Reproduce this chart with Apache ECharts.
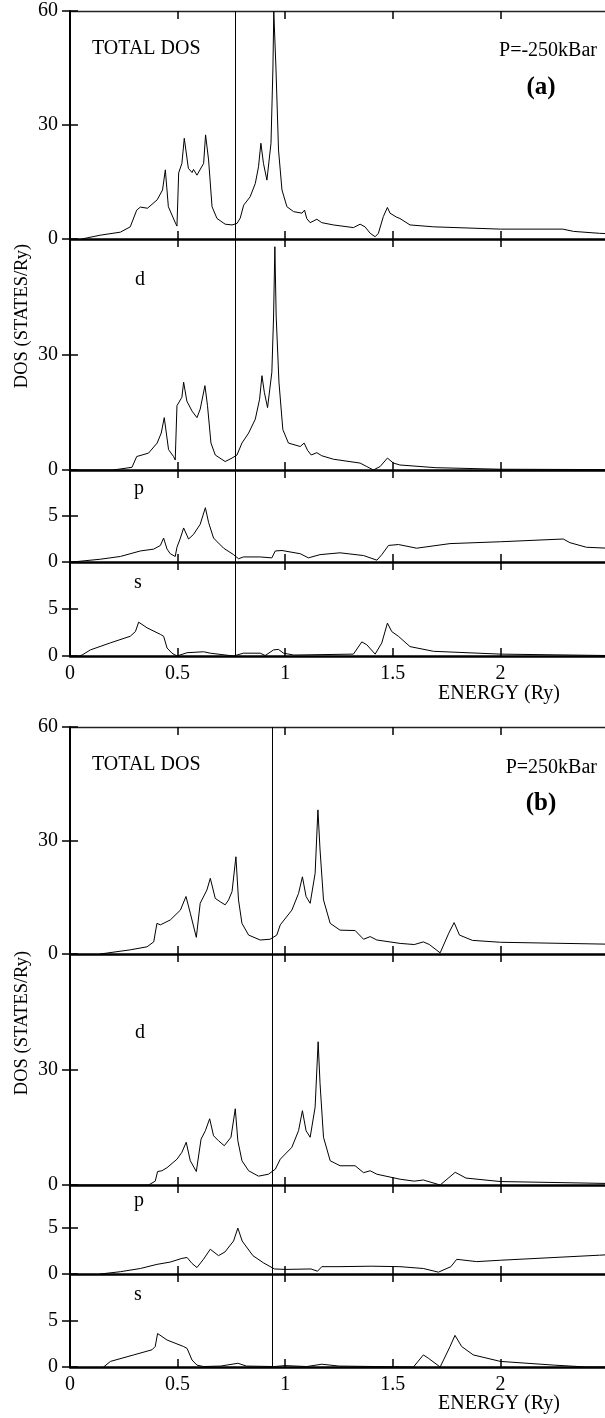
<!DOCTYPE html>
<html><head><meta charset="utf-8">
<script src="https://cdn.jsdelivr.net/npm/echarts@6/dist/echarts.min.js"></script>
<style>html,body{margin:0;padding:0;background:#fff}#c{width:605px;height:1418px}</style>
</head><body><div id="c"></div>
<script>
// ---- data (energy in Ry, DOS in states/Ry) ----
const energyTickLabels = [0, 0.5, 1, 1.5, 2];
const fermiA = 0.768;
const fermiB = 0.943;

const totalA = [[0.055,0],[0.14,1.0],[0.234,1.8],[0.28,3.2],[0.31,7.6],[0.327,8.4],[0.36,8.1],[0.405,10.3],[0.43,12.9],[0.443,18.2],[0.457,8.5],[0.49,4.2],[0.497,3.4],[0.505,17.4],[0.52,19.9],[0.531,26.5],[0.55,18.6],[0.567,17.5],[0.574,18.3],[0.59,16.8],[0.621,19.9],[0.63,27.4],[0.644,20.8],[0.66,8.5],[0.683,5.4],[0.721,3.9],[0.753,3.7],[0.776,4.1],[0.791,5.5],[0.807,8.9],[0.837,11.1],[0.861,14.6],[0.876,19],[0.887,25.2],[0.899,19.9],[0.915,15.5],[0.934,25.2],[0.943,45],[0.947,59.8],[0.957,45],[0.969,23.4],[0.985,12.9],[1.008,8.5],[1.039,7.2],[1.078,6.8],[1.09,7.6],[1.1,5.4],[1.116,4.3],[1.147,5.2],[1.17,4.3],[1.224,3.7],[1.317,3.0],[1.348,3.9],[1.371,3.2],[1.395,1.5],[1.418,0.6],[1.433,1.5],[1.456,5.9],[1.475,8.3],[1.487,6.8],[1.519,5.7],[1.533,5.4],[1.58,3.7],[1.69,3.2],[2.0,2.6],[2.29,2.6],[2.34,2.0],[2.46,1.5],[2.5,1.4]];
const dA = [[0,0],[0.2,0],[0.288,0.7],[0.31,3.5],[0.335,3.9],[0.365,4.4],[0.405,7],[0.424,9.6],[0.438,13.6],[0.458,5.3],[0.481,3.5],[0.489,2.6],[0.497,16.7],[0.52,18.9],[0.528,22.8],[0.543,17.9],[0.567,15.3],[0.59,13.6],[0.605,15.8],[0.627,21.9],[0.639,16.7],[0.655,7],[0.675,3.9],[0.721,2.2],[0.753,3.1],[0.776,3.9],[0.799,7],[0.83,9.6],[0.861,13.2],[0.881,18.4],[0.892,24.5],[0.903,20.2],[0.918,16.2],[0.938,25.4],[0.946,40],[0.952,58],[0.958,40],[0.971,22.8],[0.989,10.5],[1.015,7],[1.07,6.1],[1.088,7],[1.104,5.1],[1.121,3.9],[1.147,4.5],[1.17,3.7],[1.224,2.8],[1.348,1.8],[1.379,0.9],[1.41,0],[1.441,0.9],[1.475,3.1],[1.503,1.8],[1.533,1.3],[1.7,0.6],[2.0,0.2],[2.5,0.1]];
const pA = [[0.01,0],[0.14,0.3],[0.234,0.6],[0.327,1.2],[0.389,1.4],[0.42,1.8],[0.435,2.6],[0.451,1.4],[0.466,0.9],[0.489,0.6],[0.497,1.6],[0.513,2.6],[0.528,3.7],[0.551,2.5],[0.574,3.0],[0.605,4.1],[0.629,5.9],[0.644,4.3],[0.667,2.6],[0.714,1.5],[0.76,0.8],[0.783,0.35],[0.806,0.55],[0.884,0.55],[0.938,0.45],[0.954,1.2],[0.985,1.25],[1.07,0.9],[1.108,0.45],[1.162,0.8],[1.255,1.0],[1.364,0.7],[1.426,0.2],[1.449,0.8],[1.48,1.8],[1.526,1.9],[1.533,1.8],[1.611,1.5],[1.766,2.0],[2.0,2.2],[2.292,2.5],[2.323,2.1],[2.4,1.6],[2.5,1.5]];
const sA = [[0.04,0],[0.056,0.1],[0.095,0.65],[0.188,1.4],[0.28,2.1],[0.304,2.6],[0.319,3.6],[0.358,3.0],[0.42,2.3],[0.435,2.1],[0.451,0.85],[0.474,0.3],[0.497,0],[0.544,0.35],[0.621,0.45],[0.652,0.3],[0.76,0],[0.806,0.3],[0.884,0.3],[0.907,0.05],[0.946,0.65],[0.969,0.7],[0.992,0.3],[1.04,0.1],[1.317,0.2],[1.356,1.5],[1.379,1.2],[1.418,0.2],[1.449,1.4],[1.475,3.5],[1.495,2.6],[1.526,2.1],[1.58,1.0],[1.689,0.5],[2.0,0.2],[2.5,0.05]];

const totalB = [[0.14,0],[0.28,1.1],[0.358,1.9],[0.389,3.2],[0.396,3.7],[0.404,8.1],[0.42,7.7],[0.466,9.0],[0.513,11.6],[0.539,15.2],[0.559,10.8],[0.587,4.4],[0.605,13.4],[0.636,16.9],[0.652,20],[0.675,14.7],[0.698,13.8],[0.721,13.0],[0.737,14.3],[0.753,16.5],[0.771,25.7],[0.783,14.3],[0.799,8.1],[0.83,5.0],[0.884,3.7],[0.93,3.9],[0.961,5.0],[0.977,7.7],[1.031,11.6],[1.062,16],[1.08,20.4],[1.097,15.2],[1.116,13.4],[1.139,21.3],[1.152,38.1],[1.162,27.5],[1.178,14.3],[1.209,8.1],[1.255,6.3],[1.325,6.2],[1.364,3.9],[1.395,4.6],[1.426,3.7],[1.534,2.8],[1.6,2.5],[1.642,3.2],[1.67,2.5],[1.72,0.3],[1.76,5.5],[1.785,8.3],[1.81,5.0],[1.87,3.6],[2.0,3.1],[2.5,2.6]];
const dB = [[0,0],[0.365,0],[0.396,1],[0.407,3.5],[0.427,3.7],[0.451,4.5],[0.497,6.7],[0.52,8.5],[0.54,11.1],[0.559,6.3],[0.587,3.5],[0.609,11.9],[0.629,14.1],[0.649,17.2],[0.667,12.8],[0.69,11.5],[0.717,10.2],[0.748,12.4],[0.768,19.8],[0.78,11.5],[0.799,6.3],[0.83,3.7],[0.876,2.3],[0.922,2.8],[0.954,4.1],[0.977,6.7],[1.031,9.8],[1.062,14.1],[1.08,19.3],[1.097,14.1],[1.116,12.4],[1.139,20.2],[1.153,37.2],[1.162,26.3],[1.178,12.4],[1.209,6.3],[1.255,5.0],[1.325,5.0],[1.364,3.2],[1.395,3.7],[1.426,2.8],[1.534,1.5],[1.6,1.0],[1.642,1.3],[1.72,0],[1.79,3.3],[1.84,1.8],[2.0,0.9],[2.5,0.4]];
const pB = [[0.14,0],[0.234,0.25],[0.327,0.6],[0.404,1.05],[0.466,1.3],[0.52,1.7],[0.544,1.8],[0.567,1.15],[0.59,0.7],[0.62,1.6],[0.652,2.7],[0.69,2.0],[0.72,2.4],[0.76,3.6],[0.78,5.0],[0.8,3.6],[0.85,2.0],[0.9,1.2],[0.95,0.55],[1.0,0.5],[1.12,0.55],[1.15,0.3],[1.17,0.8],[1.25,0.8],[1.4,0.85],[1.533,0.8],[1.642,0.6],[1.712,0.2],[1.77,0.8],[1.797,1.6],[1.89,1.35],[2.0,1.5],[2.46,2.05],[2.5,2.1]];
const sB = [[0.156,0],[0.188,0.6],[0.296,1.3],[0.381,1.85],[0.396,2.2],[0.407,3.6],[0.451,2.9],[0.528,2.2],[0.544,2.0],[0.567,0.75],[0.59,0.2],[0.62,0.05],[0.7,0.1],[0.78,0.4],[0.82,0.1],[0.95,0.05],[1.0,0.15],[1.1,0.05],[1.17,0.3],[1.25,0.1],[1.596,0],[1.642,1.3],[1.665,0.95],[1.72,0],[1.766,2.2],[1.789,3.4],[1.82,2.2],[1.874,1.3],[2.0,0.6],[2.25,0.2],[2.4,0],[2.5,0]];

// ---- layout ----
const FONT = '"Liberation Serif", "Times New Roman", serif';
const panels = [
  {top: 11,   h: 228, max: 60, step: 30, labels: [0,30,60], data: totalA, fermi: fermiA, first: true},
  {top: 239,  h: 231, max: 60, step: 30, labels: [0,30],    data: dA,     fermi: fermiA},
  {top: 470,  h: 92,  max: 10, step: 5,  labels: [0,5],     data: pA,     fermi: fermiA},
  {top: 562,  h: 94,  max: 10, step: 5,  labels: [0,5],     data: sA,     fermi: fermiA, last: true},
  {top: 727,  h: 227, max: 60, step: 30, labels: [0,30,60], data: totalB, fermi: fermiB, first: true},
  {top: 954,  h: 231, max: 60, step: 30, labels: [0,30],    data: dB,     fermi: fermiB},
  {top: 1185, h: 89,  max: 9.7,step: 5,  labels: [0,5],     data: pB,     fermi: fermiB},
  {top: 1274, h: 93,  max: 10, step: 5,  labels: [0,5],     data: sB,     fermi: fermiB, last: true}
];

const TICK = {show: true, inside: true, length: 8, lineStyle: {color: '#000', width: 1.5}};
const HIDDEN_LABEL = {show: true, color: 'rgba(0,0,0,0)', fontSize: 8};

const grid = [], xAxis = [], yAxis = [], series = [];
panels.forEach((p, i) => {
  grid.push({left: 70, top: p.top, width: 538, height: p.h, containLabel: false, outerBoundsMode: 'none'});
  xAxis.push({
    type: 'value', gridIndex: i, min: 0, max: 2.5, interval: 0.5, position: 'bottom',
    axisLine: {show: true, onZero: false, lineStyle: {color: '#000', width: 2.5}},
    axisTick: TICK,
    axisLabel: p.last
      ? {show: true, customValues: energyTickLabels, fontFamily: FONT, fontSize: 20, color: '#000', margin: 8}
      : HIDDEN_LABEL,
    splitLine: {show: false}
  });
  xAxis.push({
    type: 'value', gridIndex: i, min: 0, max: 2.5, interval: 0.5, position: 'top',
    axisLine: {show: !!p.first, onZero: false, lineStyle: {color: '#222', width: 1.3}},
    axisTick: TICK,
    axisLabel: HIDDEN_LABEL,
    splitLine: {show: false}
  });
  yAxis.push({
    type: 'value', gridIndex: i, min: 0, max: p.max, interval: p.step, position: 'left',
    axisLine: {show: true, onZero: false, lineStyle: {color: '#000', width: 2}},
    axisTick: TICK,
    axisLabel: {show: true, customValues: p.labels, fontFamily: FONT, fontSize: 20, color: '#000', margin: 12},
    splitLine: {show: false}
  });
  yAxis.push({
    type: 'value', gridIndex: i, min: 0, max: p.max, interval: p.step, position: 'right',
    axisLine: {show: false},
    axisTick: TICK,
    axisLabel: HIDDEN_LABEL,
    splitLine: {show: false}
  });
  series.push({
    type: 'line', xAxisIndex: 2*i, yAxisIndex: 2*i, data: p.data,
    symbol: 'none', showSymbol: false, animation: false, clip: true,
    lineStyle: {color: '#000', width: 1},
    markLine: {
      silent: true, symbol: ['none','none'], animation: false,
      label: {show: false},
      lineStyle: {color: '#000', width: 1, type: 'solid'},
      data: [{xAxis: p.fermi}]
    }
  });
});

function txt(x, y, text, opt) {
  opt = opt || {};
  return {type: 'text', x: x, y: y, rotation: opt.rot || 0, silent: true,
    style: {text: text, font: (opt.weight || 'normal') + ' ' + (opt.size || 20) + 'px ' + FONT,
      fill: '#000', align: opt.align || 'left', verticalAlign: 'middle'}};
}
const graphic = [
  txt(92, 49, 'TOTAL DOS'),
  txt(597, 51, 'P=-250kBar', {align: 'right'}),
  txt(541, 88, '(a)', {align: 'center', weight: 'bold', size: 25}),
  txt(140, 280, 'd', {align: 'center'}),
  txt(139, 489, 'p', {align: 'center'}),
  txt(138, 583, 's', {align: 'center'}),
  txt(499, 694, 'ENERGY (Ry)', {align: 'center'}),
  txt(22, 316, 'DOS (STATES/Ry)', {align: 'center', rot: Math.PI/2, size: 18.5}),
  txt(92, 765, 'TOTAL DOS'),
  txt(597, 768, 'P=250kBar', {align: 'right'}),
  txt(541, 804, '(b)', {align: 'center', weight: 'bold', size: 25}),
  txt(140, 1033, 'd', {align: 'center'}),
  txt(139, 1201, 'p', {align: 'center'}),
  txt(138, 1295, 's', {align: 'center'}),
  txt(499, 1404, 'ENERGY (Ry)', {align: 'center'}),
  txt(22, 1023, 'DOS (STATES/Ry)', {align: 'center', rot: Math.PI/2, size: 18.5})
];

const chart = echarts.init(document.getElementById('c'), null, {renderer: 'canvas'});
chart.setOption({animation: false, backgroundColor: '#fff', grid, xAxis, yAxis, series, graphic});
</script>
</body></html>
